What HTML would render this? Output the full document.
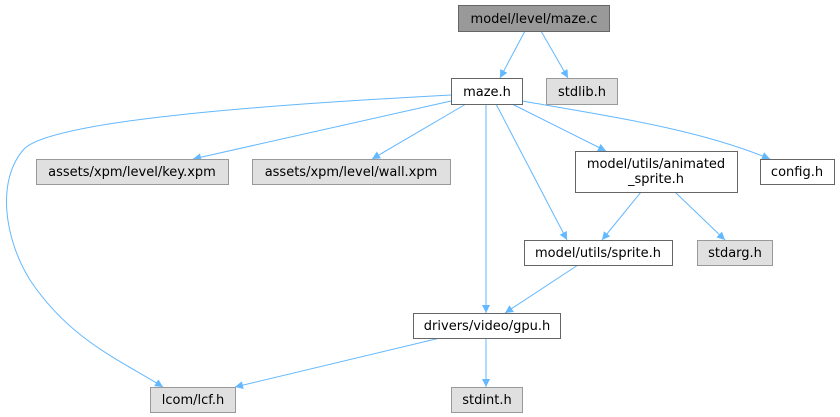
<!DOCTYPE html>
<html><head><style>html,body{margin:0;padding:0;background:#fff}svg{display:block}</style></head>
<body>
<svg width="840" height="417" viewBox="0 0 840 417" xmlns="http://www.w3.org/2000/svg" font-family="DejaVu Sans, Liberation Sans, sans-serif" font-size="13">
<defs><marker id="a" viewBox="0 0 10 10" refX="10" refY="5" markerWidth="10" markerHeight="8" markerUnits="userSpaceOnUse" orient="auto"><path d="M0,0 L10,5 L0,10 z" fill="#63b8ff"/></marker></defs>
<g fill="none" stroke="#63b8ff" stroke-width="1" marker-end="url(#a)">
<path d="M525,31 L500,78"/>
<path d="M541,31 L568,78"/>
<path d="M451,101 L193,159"/>
<path d="M466,104 L372,159"/>
<path d="M451,95 C300,103 60,118 25,148 C-5,180 5,240 30,280 C70,340 120,360 163,387"/>
<path d="M486,104 L486,313"/>
<path d="M496,104 L567,240"/>
<path d="M512,104 L606,151"/>
<path d="M522,101 C620,118 700,130 770,159"/>
<path d="M641,192 L602,240"/>
<path d="M675,192 L725,240"/>
<path d="M578,265 L505,313"/>
<path d="M440,338 L235,387"/>
<path d="M486,338 L486,387"/>
</g>
<g stroke-width="1">
<rect x="458.5" y="5.5" width="151" height="26" fill="#999" stroke="#666"/>
<rect x="451.5" y="78.5" width="71" height="26" fill="#fff" stroke="#666"/>
<rect x="546.5" y="78.5" width="71" height="26" fill="#e0e0e0" stroke="#999"/>
<rect x="36.5" y="159.5" width="192" height="25" fill="#e0e0e0" stroke="#999"/>
<rect x="252.5" y="159.5" width="198" height="25" fill="#e0e0e0" stroke="#999"/>
<rect x="575.5" y="151.5" width="162" height="41" fill="#fff" stroke="#666"/>
<rect x="760.5" y="159.5" width="74" height="25" fill="#fff" stroke="#666"/>
<rect x="524.5" y="240.5" width="148" height="25" fill="#fff" stroke="#666"/>
<rect x="697.5" y="240.5" width="75" height="25" fill="#e0e0e0" stroke="#999"/>
<rect x="413.5" y="313.5" width="147" height="25" fill="#fff" stroke="#666"/>
<rect x="150.5" y="387.5" width="85" height="25" fill="#e0e0e0" stroke="#999"/>
<rect x="451.5" y="387.5" width="71" height="25" fill="#e0e0e0" stroke="#999"/>
</g>
<g fill="#000" text-anchor="middle">
<text x="534" y="23">model/level/maze.c</text>
<text x="487" y="96">maze.h</text>
<text x="582" y="96">stdlib.h</text>
<text x="132" y="176">assets/xpm/level/key.xpm</text>
<text x="351" y="176">assets/xpm/level/wall.xpm</text>
<text x="656" y="168">model/utils/animated</text>
<text x="656" y="183">_sprite.h</text>
<text x="797" y="176">config.h</text>
<text x="598" y="257">model/utils/sprite.h</text>
<text x="735" y="257">stdarg.h</text>
<text x="487" y="330">drivers/video/gpu.h</text>
<text x="193" y="404">lcom/lcf.h</text>
<text x="487" y="404">stdint.h</text>
</g>
</svg>
</body></html>
